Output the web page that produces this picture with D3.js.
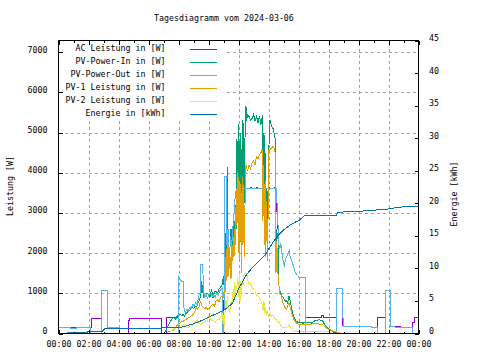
<!DOCTYPE html>
<html><head><meta charset="utf-8">
<script src="https://cdn.jsdelivr.net/npm/d3@7"></script>
<style>
body{margin:0;background:#fff}
svg text{font-family:"DejaVu Sans Mono",monospace;font-size:8.3px;fill:#000}
</style>
</head><body>
<svg id="chart" width="480" height="360"></svg>
<script>
// ---------- data ----------
const titleText = "Tagesdiagramm vom 2024-03-06";
const hourTicks = [0,2,4,6,8,10,12,14,16,18,20,22,24];
const hourLabels = ["00:00","02:00","04:00","06:00","08:00","10:00","12:00","14:00","16:00","18:00","20:00","22:00","00:00"];
const minorHours = [1,3,5,7,9,11,13,15,17,19,21,23];
const powerTicks = [0,1000,2000,3000,4000,5000,6000,7000];
const energyTicks = [0,5,10,15,20,25,30,35,40,45];
const seriesNames = ["AC Leistung in [W]","PV-Power-In in [W]","PV-Power-Out in [W]","PV-1 Leistung in [W]","PV-2 Leistung in [W]","Energie in [kWh]"];
const seriesColors = ["#9400d3","#009e73","#56b4e9","#e69f00","#f0e442","#0072b2"];

// [hour, W]
const acPower = [[0,150],[2.2,150],[2.2,380],[2.87,380],[2.87,0],[4.65,0],[4.65,330],[4.75,330],[4.75,380],[6.87,380],[6.87,0],[7.2,0],[7.2,390],[7.5,390],[7.55,410],[7.8,400],[7.98,400],
 [8.0,1440],[8.1,1350],[8.2,1300],[8.33,1300],[8.36,650],[8.45,520],[8.55,600],[8.65,560],[8.75,650],[8.85,620],[8.95,720],[9.05,700],[9.15,760],[9.25,720],[9.35,940],[9.45,1000],[9.5,1730],[9.62,1700],[9.66,1060],[9.75,900],[9.85,950],[9.95,880],[10.05,980],[10.15,1000],[10.25,920],[10.35,960],[10.45,900],[10.55,1000],[10.65,950],[10.75,1060],[10.85,1100],[10.92,1150],
 [10.95,500],[11.02,500],[11.05,1200],[11.1,3900],[11.18,3900],[11.22,2200],[11.3,2600],[11.38,1800],[11.47,2400],[11.55,2200],[11.62,2600],[11.7,3000],[11.78,3400],[11.85,3600],[12.8,3600],
 [12.8,3625],[12.87,3625],[12.87,3600],[13.2,3600],[13.2,3625],[13.27,3625],[13.27,3600],[13.6,3600],[13.6,3625],[13.67,3625],[13.67,3600],[14.0,3600],[14.0,3625],[14.07,3625],[14.07,3600],[14.4,3600],[14.4,3625],[14.47,3625],[14.47,3600],[14.55,3600],
 [14.58,2640],[14.65,2600],[14.7,2200],[14.75,2100],[14.82,2250],[14.9,2000],[15.0,1750],[15.05,1690],[15.15,1860],[15.25,1950],[15.38,2060],[15.45,1900],[15.55,1800],[15.65,1700],[15.75,1550],[15.85,1480],[15.95,1440],[16.05,1380],[16.15,1400],[16.3,1400],[16.45,1400],
 [16.47,400],[17.55,400],[17.56,440],[17.65,440],[17.66,400],[18.53,400],[18.53,1130],[18.9,1130],[18.92,200],[19.05,170],[20.0,165],[21.25,160],[21.25,400],[21.8,400],[21.8,1080],[22.13,1080],[22.15,180],[22.6,170],[22.8,170],[22.82,150],[23.6,150],[23.6,270],[23.75,270],[23.75,400],[24,400]];

const pvIn = [[0,0],[7.0,0],[7.15,60],[7.3,180],[7.45,300],[7.6,380],[7.7,400],[7.8,350],[7.9,420],[8.0,470],[8.1,480],[8.2,440],[8.3,470],[8.4,430],[8.5,500],[8.6,540],[8.7,560],[8.8,600],[8.9,650],[9.0,620],[9.1,680],[9.2,640],[9.3,760],[9.4,820],[9.5,1000],[9.55,1300],[9.6,1060],[9.7,880],[9.8,920],[9.9,1000],[10.0,980],[10.1,900],[10.2,1100],[10.3,880],[10.4,1050],[10.5,1060],[10.6,1000],[10.7,1100],[10.8,1150],[10.9,1200],[11.0,1440],[11.05,1100],[11.1,1500],[11.15,2500],[11.2,2000],[11.25,4150],[11.3,1800],[11.35,2000],[11.4,1800],[11.45,2300],[11.5,2600],[11.55,2000],[11.6,2400],[11.65,2200],[11.7,2800],[11.75,2400],[11.8,3200],[11.85,2600],[11.9,4850],[11.95,3000],[12.0,5200],[12.03,2500],[12.06,4800],[12.1,2200],[12.13,5000],[12.17,2800],[12.2,4600],[12.25,3000],[12.3,5300],[12.35,2600],[12.4,4400],[12.45,5100],[12.5,5650],[12.55,5300],[12.6,5450],[12.7,5400],[12.8,5300],[12.9,5350],[13.0,5450],[13.1,5300],[13.2,5400],[13.3,5250],[13.4,5400],[13.5,5200],[13.6,5440],[13.65,4000],[13.7,5000],[13.75,3400],[13.8,4500],[13.85,2400],[13.9,3600],[13.95,2300],[14.0,4000],[14.05,5000],[14.1,5310],[14.2,5150],[14.3,5100],[14.4,4950],[14.44,4850],[14.47,3000],[14.5,1770],[14.55,2600],[14.6,2360],[14.65,2500],[14.7,1190],[14.8,1000],[14.9,940],[15.0,900],[15.1,800],[15.2,820],[15.27,770],[15.38,940],[15.45,800],[15.5,700],[15.6,520],[15.7,400],[15.82,310],[16.0,270],[16.3,260],[16.6,270],[16.9,260],[17.0,300],[17.2,330],[17.4,340],[17.6,320],[17.7,250],[17.9,150],[18.1,100],[18.3,40],[18.6,0],[24,0]];

const pvOut = [[0,150],[0.8,150],[0.8,125],[1.2,125],[1.2,150],[2.13,150],[2.13,0],[2.87,0],[2.87,1080],[3.25,1080],[3.25,140],[4.07,140],[4.07,0],[7.98,0],
 [8.0,1440],[8.1,1350],[8.2,1300],[8.33,1300],[8.36,650],[8.45,520],[8.55,600],[8.65,560],[8.75,650],[8.85,620],[8.95,720],[9.05,700],[9.15,760],[9.25,720],[9.35,940],[9.45,1000],[9.5,1730],[9.62,1700],[9.66,1060],[9.75,900],[9.85,950],[9.95,880],[10.05,980],[10.15,1000],[10.25,920],[10.35,960],[10.45,900],[10.55,1000],[10.65,950],[10.75,1060],[10.85,1100],[10.92,1150],
 [10.95,0],[11.02,0],[11.05,1200],[11.1,3900],[11.18,3900],[11.22,2200],[11.3,2600],[11.38,1800],[11.47,2400],[11.55,2200],[11.62,2600],[11.7,3000],[11.78,3400],[11.85,3600],[14.55,3600],
 [14.58,3000],[14.65,2600],[14.7,2200],[14.75,2100],[14.82,2250],[14.9,2000],[15.0,1750],[15.05,1690],[15.15,1860],[15.25,1950],[15.38,2060],[15.45,1900],[15.55,1800],[15.65,1700],[15.75,1550],[15.85,1480],[15.95,1440],[16.05,1380],[16.15,1400],[16.3,1400],[16.45,1400],
 [16.47,0],[18.53,0],[18.53,1130],[18.9,1130],[18.92,700],[19.0,170],[20.0,165],[21.25,160],[21.25,0],[21.8,0],[21.8,1080],[22.13,1080],[22.15,180],[22.6,150],[23.62,150],[23.62,0],[24,0]];

const pv1 = [[0,0],[7.2,0],[7.3,40],[7.5,60],[7.7,80],[7.85,180],[8.0,230],[8.1,260],[8.2,310],[8.3,300],[8.4,330],[8.5,350],[8.6,380],[8.7,400],[8.8,420],[8.9,450],[9.0,480],[9.1,560],[9.2,650],[9.3,600],[9.4,700],[9.47,810],[9.55,700],[9.65,650],[9.75,620],[9.85,650],[9.95,600],[10.05,640],[10.13,650],[10.2,700],[10.3,730],[10.4,680],[10.5,800],[10.58,850],[10.7,780],[10.8,900],[10.9,940],[11.0,900],[11.05,1100],[11.1,1000],[11.15,1900],[11.2,1300],[11.25,2500],[11.3,1400],[11.35,2190],[11.4,1600],[11.45,1900],[11.5,1360],[11.55,2200],[11.6,1800],[11.65,2400],[11.7,1900],[11.75,2600],[11.8,2200],[11.85,3600],[11.9,2700],[11.95,4020],[12.0,2000],[12.03,3900],[12.06,1800],[12.1,3800],[12.13,2300],[12.17,3500],[12.2,1500],[12.25,3900],[12.3,2200],[12.35,3700],[12.4,1900],[12.45,3800],[12.5,4190],[12.6,4050],[12.7,4200],[12.8,4100],[12.9,4250],[13.0,4300],[13.1,4200],[13.2,4400],[13.3,4350],[13.4,4450],[13.5,4500],[13.58,4600],[13.63,2800],[13.68,4200],[13.72,2200],[13.77,3800],[13.82,1900],[13.87,3300],[13.92,1800],[13.97,2900],[14.02,4550],[14.1,4580],[14.2,4620],[14.3,4650],[14.4,4600],[14.44,4500],[14.47,2400],[14.5,1500],[14.55,2300],[14.6,1800],[14.65,1350],[14.75,1000],[14.85,940],[14.95,770],[15.1,650],[15.2,600],[15.35,770],[15.45,650],[15.6,440],[15.7,350],[15.82,270],[16.0,230],[16.4,230],[16.8,220],[17.0,250],[17.3,240],[17.6,220],[17.8,160],[18.0,100],[18.3,60],[18.6,30],[18.9,0],[24,0]];

const pv2 = [[0,0],[7.35,0],[7.5,60],[7.7,120],[7.9,145],[8.1,170],[8.36,230],[8.5,160],[8.65,145],[8.8,230],[8.95,200],[9.1,280],[9.25,350],[9.35,250],[9.47,230],[9.6,260],[9.8,310],[9.9,280],[10.0,440],[10.1,380],[10.2,330],[10.35,310],[10.45,280],[10.55,330],[10.7,350],[10.8,400],[10.9,520],[10.95,300],[11.0,450],[11.05,150],[11.1,500],[11.15,800],[11.2,600],[11.25,940],[11.3,700],[11.4,520],[11.5,770],[11.58,800],[11.65,1100],[11.7,900],[11.75,1270],[11.8,1000],[11.85,1150],[11.9,1200],[11.95,1400],[12.0,900],[12.05,1500],[12.1,800],[12.15,1300],[12.2,1000],[12.25,1350],[12.3,1200],[12.36,1440],[12.45,1520],[12.55,1500],[12.6,1350],[12.7,1200],[12.8,1250],[12.9,1150],[13.0,1100],[13.1,1050],[13.2,950],[13.3,940],[13.4,880],[13.5,800],[13.6,700],[13.65,550],[13.7,800],[13.75,500],[13.8,650],[13.85,450],[13.9,550],[14.0,440],[14.1,500],[14.2,420],[14.3,450],[14.4,380],[14.5,350],[14.6,300],[14.7,280],[14.8,220],[14.9,160],[15.1,140],[15.3,170],[15.4,220],[15.5,140],[15.7,60],[16.0,60],[17.0,60],[18.0,60],[18.1,40],[18.3,0],[24,0]];

// [hour, kWh]
const energy = [[0.58,0.1],[1.9,0.1],[1.92,0.3],[2.9,0.3],[3.0,0.57],[3.13,0.82],[8.0,0.85],[8.5,1.15],[9.0,1.5],[9.5,1.95],[10.0,2.5],[10.5,3.0],[11.0,3.55],[11.13,3.75],[11.58,4.6],[12.02,6.9],[12.47,8.8],[12.9,10.1],[13.35,11.1],[13.8,12.15],[14.02,13.0],[14.3,14.0],[14.6,15.0],[15.0,15.9],[15.4,16.6],[15.7,17.0],[16.05,17.4],[16.38,18.05],[16.45,18.1],[18.55,18.15],[18.6,18.55],[19.1,18.7],[20.25,18.8],[21.9,19.1],[22.7,19.4],[24,19.55]];

// ---------- drawing ----------
const svg = d3.select("#chart");
const L = 58.5, R = 418.5, T = 40.5, B = 333.5;
const x = d3.scaleLinear().domain([0,24]).range([L,R]);
const yP = d3.scaleLinear().domain([0,7290]).range([B,T]);
const yE = d3.scaleLinear().domain([0,45]).range([B,T]);

svg.append("rect").attr("width",480).attr("height",360).attr("fill","#fff");

// grid
const gridStyle = g => { g.select(".domain").remove(); g.selectAll("line").attr("stroke","#a0a0a0").attr("stroke-dasharray","3,3").attr("shape-rendering","crispEdges"); g.selectAll("text").remove(); };
svg.append("g").attr("transform",`translate(0,${B})`)
  .call(d3.axisBottom(x).tickValues(hourTicks.slice(1,-1)).tickSize(-(B-T)).tickFormat(""))
  .call(gridStyle);
svg.append("g").attr("transform",`translate(${L},0)`)
  .call(d3.axisLeft(yP).tickValues(powerTicks.slice(1)).tickSize(-(R-L)).tickFormat(""))
  .call(gridStyle);

// opaque key background
svg.append("rect").attr("x",59).attr("y",41).attr("width",166).attr("height",79).attr("fill","#fff");

// data lines
const lineP = d3.line().x(d=>x(d[0])).y(d=>yP(d[1]));
const lineE = d3.line().x(d=>x(d[0])).y(d=>yE(d[1]));
const powerSeries = [acPower,pvIn,pvOut,pv1,pv2];
powerSeries.forEach((s,i)=>{
  svg.append("path").attr("d",lineP(s)).attr("fill","none").attr("stroke",seriesColors[i]).attr("stroke-width",1).attr("shape-rendering","crispEdges");
});
svg.append("path").attr("d",lineE(energy)).attr("fill","none").attr("stroke",seriesColors[5]).attr("stroke-width",1).attr("shape-rendering","crispEdges");

// legend
seriesNames.forEach((n,i)=>{
  const ly = 49 + 13*i;
  svg.append("text").attr("x",165.5).attr("y",ly+2).attr("text-anchor","end").text(n);
  svg.append("line").attr("x1",190).attr("x2",217).attr("y1",ly+0.5).attr("y2",ly+0.5).attr("stroke",seriesColors[i]).attr("shape-rendering","crispEdges");
});

// axes ticks
const tickStyle = g => { g.select(".domain").remove(); g.selectAll("line").attr("stroke","#000").attr("shape-rendering","crispEdges"); };
svg.append("g").attr("transform",`translate(0,${B})`)
  .call(d3.axisBottom(x).tickValues(hourTicks).tickSize(-4).tickFormat((d,i)=>hourLabels[i]))
  .call(tickStyle)
  .call(g=>g.selectAll("text").attr("y",13.5).attr("dy",null).attr("text-anchor","middle"));
svg.append("g").attr("transform",`translate(0,${B})`)
  .call(d3.axisBottom(x).tickValues(minorHours).tickSize(-2).tickFormat(""))
  .call(tickStyle);
svg.append("g").attr("transform",`translate(0,${T})`)
  .call(d3.axisTop(x).tickValues(hourTicks).tickSize(-4).tickFormat(""))
  .call(tickStyle);
svg.append("g").attr("transform",`translate(0,${T})`)
  .call(d3.axisTop(x).tickValues(minorHours).tickSize(-2).tickFormat(""))
  .call(tickStyle);
svg.append("g").attr("transform",`translate(${L},0)`)
  .call(d3.axisLeft(yP).tickValues(powerTicks).tickSize(-4).tickFormat(d3.format("d")))
  .call(tickStyle)
  .call(g=>g.selectAll("text").attr("x",-11).attr("dy",null).attr("text-anchor","end"));
svg.append("g").attr("transform",`translate(${R},0)`)
  .call(d3.axisRight(yE).tickValues(energyTicks).tickSize(-4).tickFormat(d3.format("d")))
  .call(tickStyle)
  .call(g=>g.selectAll("text").attr("x",10.5).attr("dy",null).attr("text-anchor","start"));

// border (front)
svg.append("rect").attr("x",L).attr("y",T).attr("width",R-L).attr("height",B-T)
  .attr("fill","none").attr("stroke","#000").attr("shape-rendering","crispEdges");

// titles
svg.append("text").attr("x",154).attr("y",21).text(titleText);
svg.append("text").attr("transform","translate(13,186) rotate(-90)").attr("text-anchor","middle").text("Leistung [W]");
svg.append("text").attr("transform","translate(456.5,194) rotate(-90)").attr("text-anchor","middle").text("Energie [kWh]");
</script>
</body></html>
